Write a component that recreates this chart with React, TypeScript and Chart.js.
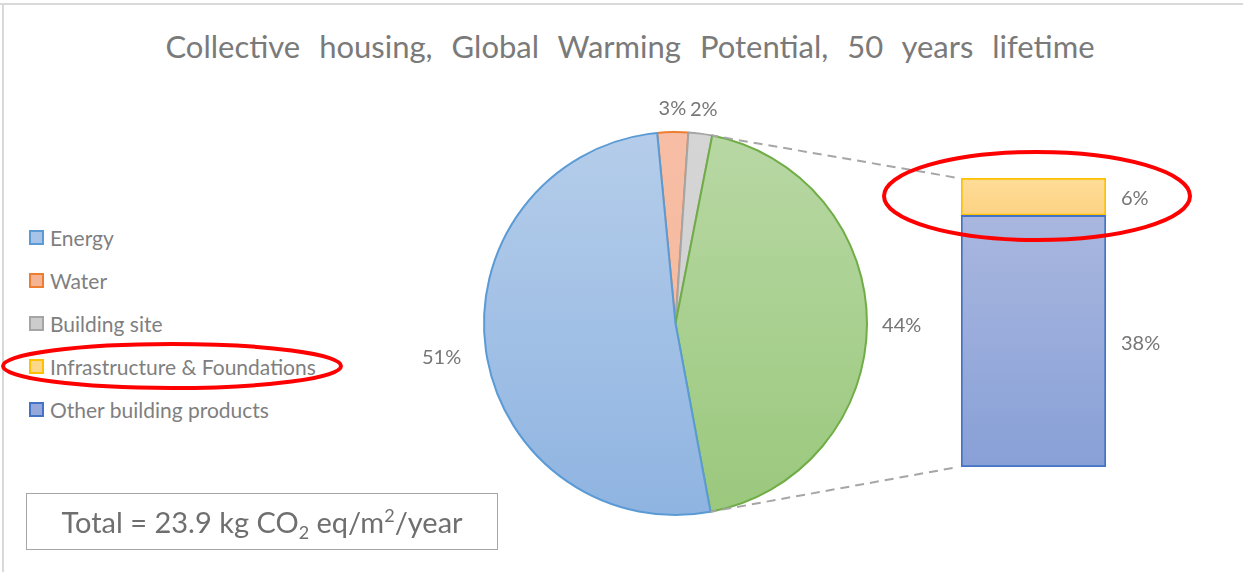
import React, { useEffect, useRef } from "react";
import { Chart, registerables } from "chart.js";

Chart.register(...registerables);

// ---- data ----
const titleText = "Collective housing, Global Warming Potential, 50 years lifetime";
const categories = ["Energy", "Water", "Building site", "Infrastructure & Foundations", "Other building products"];
const shares = [51.4, 2.6, 2.0, 5.7, 38.3];
const otherLabel = "Other";
const totalValue = "23.9";

// ---- styles ----
const borderColors = ["#5b9bd5", "#ed7d31", "#a5a5a5", "#ffc000", "#4472c4"];
const fillTop = ["#b5cdea", "#f7bea5", "#d5d5d5", "#fedc98", "#a9b7df"];
const fillBottom = ["#8fb4e1", "#f5b89c", "#cfcfcf", "#fdd383", "#88a0d7"];
const otherBorder = "#70ad47";
const otherTop = "#b8d8a4";
const otherBottom = "#9ac87c";
const legendFill = ["#a7c4e8", "#f5b595", "#cccccc", "#fed88a", "#94a8dc"];

const W = 1243;
const H = 572;
const FONT = "Lato, 'Open Sans', sans-serif";
const TEXT = "#767676";
const LABEL_SIZE = 20;

function vgrad(ctx: CanvasRenderingContext2D, y0: number, y1: number, c0: string, c1: string) {
  if (!isFinite(y0) || !isFinite(y1) || y0 === y1) return c0;
  const g = ctx.createLinearGradient(0, y0, 0, y1);
  g.addColorStop(0, c0);
  g.addColorStop(1, c1);
  return g;
}

export default function App() {
  const pieRef = useRef<HTMLCanvasElement | null>(null);
  const barRef = useRef<HTMLCanvasElement | null>(null);

  useEffect(() => {
    if (!pieRef.current || !barRef.current) return;

    // pie: Water, Building site, Other (sum of last two), Energy — clockwise
    const pieLabels = [categories[1], categories[2], otherLabel, categories[0]];
    const pieValues = [shares[1], shares[2], shares[3] + shares[4], shares[0]];
    const pieBorder = [borderColors[1], borderColors[2], otherBorder, borderColors[0]];
    const pieTop = [fillTop[1], fillTop[2], otherTop, fillTop[0]];
    const pieBot = [fillBottom[1], fillBottom[2], otherBottom, fillBottom[0]];

    const pieLabelPlugin = {
      id: "pieLabels",
      afterDatasetsDraw(chart: any) {
        const ctx = chart.ctx;
        const meta = chart.getDatasetMeta(0);
        ctx.save();
        ctx.font = `${LABEL_SIZE}px ${FONT}`;
        ctx.fillStyle = TEXT;
        ctx.textAlign = "center";
        ctx.textBaseline = "middle";
        meta.data.forEach((arc: any, i: number) => {
          const mid = (arc.startAngle + arc.endAngle) / 2;
          const txt = Math.round(pieValues[i]) + "%";
          const tw = ctx.measureText(txt).width;
          const cx = Math.cos(mid);
          const sy = Math.sin(mid);
          const gap = cx < -0.5 ? 24 : 15;
          const r = arc.outerRadius + gap + (tw / 2) * Math.abs(cx) + 9 * Math.abs(sy);
          ctx.fillText(txt, arc.x + r * cx, arc.y + r * sy + 1);
        });
        ctx.restore();
      },
    };

    const pie = new Chart(pieRef.current, {
      type: "pie",
      data: {
        labels: pieLabels,
        datasets: [
          {
            data: pieValues,
            borderColor: pieBorder,
            borderWidth: 2,
            backgroundColor: (c: any) => {
              const ch = c.chart;
              const ca = ch.chartArea;
              const i = c.dataIndex ?? 0;
              if (!ca) return pieTop[i];
              return vgrad(ch.ctx, ca.top, ca.bottom, pieTop[i], pieBot[i]);
            },
          },
        ],
      },
      options: {
        responsive: false,
        animation: false,
        events: [],
        rotation: -5.5,
        layout: { padding: { left: 483, right: 375, top: 131, bottom: 56 } },
        plugins: { legend: { display: false }, tooltip: { enabled: false }, title: { display: false } },
      } as any,
      plugins: [pieLabelPlugin],
    });

    const barTotal = shares[3] + shares[4];

    const barPlugin = {
      id: "barExtras",
      afterDatasetsDraw(chart: any) {
        const ctx = chart.ctx;
        const m0 = chart.getDatasetMeta(0).data[0] as any;
        const m1 = chart.getDatasetMeta(1).data[0] as any;
        if (!m0 || !m1) return;
        // connector lines from the "Other" slice to the bar
        const arc = pie.getDatasetMeta(0).data[2] as any;
        const left = m0.x - m0.width / 2;
        const p1 = { x: arc.x + arc.outerRadius * Math.cos(arc.startAngle), y: arc.y + arc.outerRadius * Math.sin(arc.startAngle) };
        const p2 = { x: arc.x + arc.outerRadius * Math.cos(arc.endAngle), y: arc.y + arc.outerRadius * Math.sin(arc.endAngle) };
        ctx.save();
        ctx.strokeStyle = "#a6a6a6";
        ctx.lineWidth = 2;
        ctx.setLineDash([9, 6]);
        ctx.lineDashOffset = -12;
        ctx.beginPath();
        ctx.moveTo(p1.x, p1.y);
        ctx.lineTo(left - 3, m1.y);
        ctx.moveTo(p2.x, p2.y);
        ctx.lineTo(left - 3, m0.base);
        ctx.stroke();
        ctx.restore();
        // value labels
        ctx.save();
        ctx.font = `${LABEL_SIZE}px ${FONT}`;
        ctx.fillStyle = TEXT;
        ctx.textAlign = "left";
        ctx.textBaseline = "middle";
        const right = m0.x + m0.width / 2;
        ctx.fillText(Math.round(shares[4]) + "%", right + 15, (m0.y + m0.base) / 2 + 2);
        ctx.fillText(Math.round(shares[3]) + "%", right + 15, (m1.y + m1.base) / 2 + 2);
        ctx.restore();
      },
    };

    const segGrad = (lo: number, hi: number, c0: string, c1: string) => (c: any) => {
      const ch = c.chart;
      const y = ch.scales?.y;
      if (!y) return c0;
      let y0 = NaN;
      let y1 = NaN;
      try {
        y0 = y.getPixelForValue(hi);
        y1 = y.getPixelForValue(lo);
      } catch (e) {
        return c0;
      }
      return vgrad(ch.ctx, y0, y1, c0, c1);
    };

    const bar = new Chart(barRef.current, {
      type: "bar",
      data: {
        labels: [otherLabel],
        datasets: [
          {
            label: categories[4],
            data: [shares[4]],
            borderColor: borderColors[4],
            borderWidth: 2,
            borderSkipped: false,
            barPercentage: 1,
            categoryPercentage: 1,
            backgroundColor: segGrad(0, shares[4], fillTop[4], fillBottom[4]),
          },
          {
            label: categories[3],
            data: [shares[3]],
            borderColor: borderColors[3],
            borderWidth: 2,
            borderSkipped: false,
            barPercentage: 1,
            categoryPercentage: 1,
            backgroundColor: segGrad(shares[4], barTotal, fillTop[3], fillBottom[3]),
          },
        ],
      },
      options: {
        responsive: false,
        animation: false,
        events: [],
        layout: { padding: { left: 961, right: 137, top: 178, bottom: 105 } },
        scales: {
          x: { stacked: true, display: false },
          y: { stacked: true, display: false, min: 0, max: barTotal },
        },
        plugins: { legend: { display: false }, tooltip: { enabled: false }, title: { display: false } },
      } as any,
      plugins: [barPlugin],
    });

    return () => {
      bar.destroy();
      pie.destroy();
    };
  }, []);

  return (
    <div
      style={{
        position: "absolute",
        left: 0,
        top: 0,
        width: W,
        height: H,
        background: "#ffffff",
        overflow: "hidden",
        fontFamily: FONT,
        color: TEXT,
      }}
    >
      {/* frame */}
      <div style={{ position: "absolute", left: 0, top: 3, width: W, height: 2, background: "#d9d9d9" }} />
      <div style={{ position: "absolute", left: 2, top: 3, width: 2, height: H - 3, background: "#d9d9d9" }} />

      {/* title */}
      <div
        style={{
          position: "absolute",
          left: 130,
          width: 1000,
          top: 27,
          textAlign: "center",
          fontSize: 31,
          lineHeight: "38px",
          whiteSpace: "nowrap",
          wordSpacing: 11,
          color: "#7a7a7a",
        }}
      >
        {titleText}
      </div>

      {/* legend */}
      {categories.map((c, i) => (
        <div
          key={c}
          style={{
            position: "absolute",
            left: 29,
            top: 237 + i * 43 - 14,
            height: 28,
            display: "flex",
            alignItems: "center",
            whiteSpace: "nowrap",
            fontSize: 21,
            color: "#7f7f7f",
          }}
        >
          <span
            style={{
              display: "inline-block",
              width: 11,
              height: 11,
              background: legendFill[i],
              border: `2px solid ${borderColors[i]}`,
              marginRight: 6,
            }}
          />
          {c}
        </div>
      ))}

      <canvas ref={pieRef} width={W} height={H} style={{ position: "absolute", left: 0, top: 0, width: W, height: H }} />
      <canvas ref={barRef} width={W} height={H} style={{ position: "absolute", left: 0, top: 0, width: W, height: H }} />

      {/* total box */}
      <div
        style={{
          position: "absolute",
          left: 26,
          top: 493,
          width: 472,
          height: 57,
          border: "1px solid #a6a6a6",
          boxSizing: "border-box",
          display: "flex",
          alignItems: "center",
          justifyContent: "center",
          fontSize: 29,
          color: "#6f6f6f",
          whiteSpace: "nowrap",
        }}
      >
        <span>
          Total = {totalValue} kg CO<sub style={{ fontSize: 18, verticalAlign: -6, lineHeight: 0 }}>2</sub> eq/m
          <sup style={{ fontSize: 18, verticalAlign: 11, lineHeight: 0 }}>2</sup>/year
        </span>
      </div>

      {/* highlight ellipses */}
      <svg width={W} height={H} style={{ position: "absolute", left: 0, top: 0, pointerEvents: "none" }}>
        <ellipse cx={172} cy={366} rx={169} ry={22} fill="none" stroke="#ff0000" strokeWidth={4} />
        <ellipse cx={1037} cy={196} rx={153} ry={44} fill="none" stroke="#ff0000" strokeWidth={4} />
      </svg>
    </div>
  );
}
